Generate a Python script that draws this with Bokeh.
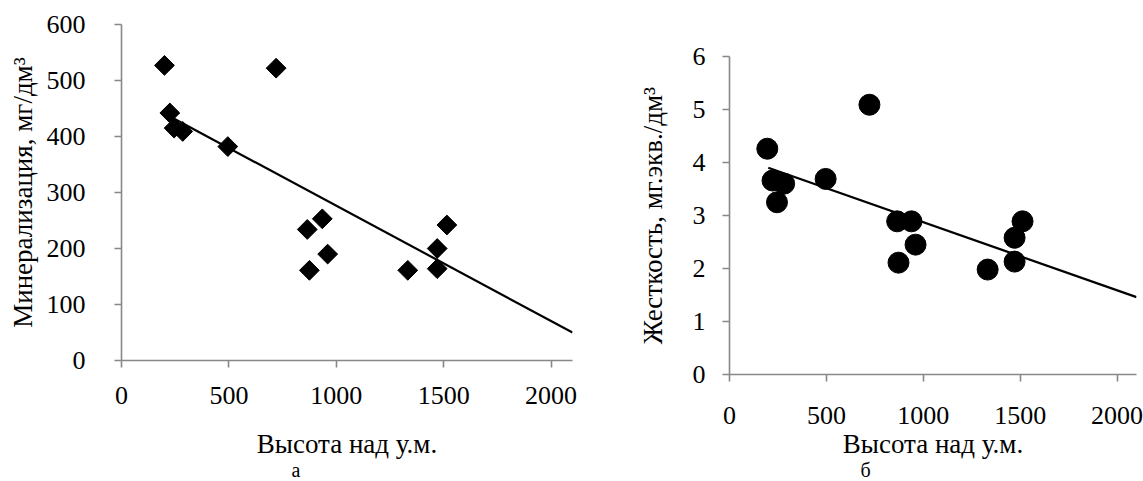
import numpy as np
from bokeh.plotting import figure
from bokeh.layouts import row, column
from bokeh.models import Range1d, FixedTicker, Title
from bokeh.embed import file_html
from bokeh.resources import INLINE

# ---- data ----
heights_a = [200, 225, 245, 285, 495, 720, 865, 875, 935, 960, 1333, 1470, 1470, 1515]
mineral = [527, 442, 415, 409, 382, 522, 234, 161, 253, 190, 161, 200, 164, 242]
heights_b = [195, 222, 245, 282, 496, 722, 865, 872, 939, 960, 1332, 1471, 1471, 1512]
hardness = [4.26, 3.66, 3.25, 3.60, 3.69, 5.09, 2.89, 2.11, 2.89, 2.45, 1.98, 2.58, 2.13, 2.89]
trend_x = [200, 2100]
trend_a = [441, 50]
trend_b = [3.90, 1.46]
x_ticks = [0, 500, 1000, 1500, 2000]
y_ticks_a = [0, 100, 200, 300, 400, 500, 600]
y_ticks_b = [0, 1, 2, 3, 4, 5, 6]
x_title = "Высота над у.м."
y_title_a = "Минерализация, мг/дм³"
y_title_b = "Жесткость, мг.экв./дм³"
caption_a = "а"
caption_b = "б"

FONT = "Liberation Serif"
AXIS_GREY = "#888888"


def style(p, yticks):
    p.xgrid.visible = False
    p.ygrid.visible = False
    p.outline_line_color = None
    p.xaxis.ticker = FixedTicker(ticks=x_ticks)
    p.yaxis.ticker = FixedTicker(ticks=yticks)
    for ax in (p.xaxis[0], p.yaxis[0]):
        ax.axis_line_color = AXIS_GREY
        ax.axis_line_width = 1.6
        ax.major_tick_line_color = AXIS_GREY
        ax.major_tick_line_width = 1.6
        ax.major_tick_in = 0
        ax.major_tick_out = 7
        ax.minor_tick_line_color = None
        ax.major_label_text_font = FONT
        ax.major_label_text_font_size = "26px"
        ax.major_label_text_color = "black"
        ax.axis_label_text_font = FONT
        ax.axis_label_text_font_style = "normal"
        ax.axis_label_text_color = "black"
    p.xaxis.axis_label = x_title
    p.xaxis.axis_label_text_font_size = "27px"


# ---- left chart (а) ----
pa = figure(width=580, height=481, output_backend="svg", toolbar_location=None,
            x_range=Range1d(0, 2100), y_range=Range1d(0, 600),
            min_border_left=121, min_border_right=8, min_border_top=24, min_border_bottom=121)
style(pa, y_ticks_a)
pa.yaxis.major_label_standoff = 29
pa.xaxis.major_label_standoff = 19
pa.xaxis.axis_label_standoff = 22
pa.yaxis.axis_label = y_title_a
pa.yaxis.axis_label_text_font_size = "27px"
pa.yaxis.axis_label_standoff = 6
pa.line(trend_x, trend_a, line_color="black", line_width=2.2)
pa.scatter(heights_a, mineral, marker="square", size=14, angle=np.pi / 4,
           fill_color="black", line_color="black")
pa.add_layout(Title(text=caption_a, align="left", offset=170, standoff=-10,
                    text_font=FONT, text_font_size="20px", text_font_style="normal",
                    text_color="black"), "below")

# ---- right chart (б) ----
pb = figure(width=563, height=481, output_backend="svg", toolbar_location=None,
            x_range=Range1d(0, 2100), y_range=Range1d(0, 6),
            min_border_left=149, min_border_right=7, min_border_top=56, min_border_bottom=107)
style(pb, y_ticks_b)
pb.yaxis.major_label_standoff = 17
pb.xaxis.major_label_standoff = 25
pb.xaxis.axis_label_standoff = 2
pb.yaxis.axis_label = y_title_b
pb.yaxis.axis_label_text_font_size = "27px"
pb.yaxis.axis_label_standoff = 22
pb.line(trend_x, trend_b, line_color="black", line_width=2.2)
pb.scatter(heights_b, hardness, marker="circle", size=21,
           fill_color="black", line_color="black")
pb.add_layout(Title(text=caption_b, align="left", offset=131, standoff=-9,
                    text_font=FONT, text_font_size="20px", text_font_style="normal",
                    text_color="black"), "below")

layout = row(column(pa), column(pb))
open("out.html", "w").write(file_html(layout, INLINE))
